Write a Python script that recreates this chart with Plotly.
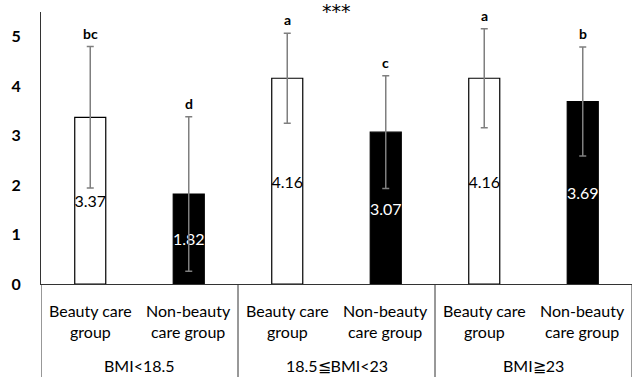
import plotly.graph_objects as go

groups = ["BMI<18.5", "18.5≦BMI<23", "BMI≧23"]
subgroups = ["Beauty care<br>group", "Non-beauty<br>care group"]
means = [3.37, 1.82, 4.16, 3.07, 4.16, 3.69]
sds = [1.43, 1.56, 0.91, 1.14, 1.00, 1.10]
letters = ["bc", "d", "a", "c", "a", "b"]
fills = ["white", "black", "white", "black", "white", "black"]
text_colors = ["black", "white", "black", "white", "black", "white"]
y_ticks = [0, 1, 2, 3, 4, 5]
significance = "***"

FONT = "Lato, Open Sans, sans-serif"
n_sub = len(subgroups)
positions = list(range(len(means)))

fig = go.Figure()
fig.add_trace(go.Bar(
    x=positions,
    y=means,
    marker=dict(color=fills, line=dict(color="black", width=1.2)),
    error_y=dict(type="data", array=sds, visible=True, color="#7f7f7f",
                 thickness=1.5, width=3.5),
    text=[f"{m:.2f}" for m in means],
    textposition="inside",
    insidetextanchor="middle",
    textangle=0,
    constraintext="none",
    textfont=dict(family=FONT, size=16, color=text_colors),
    hoverinfo="skip",
))

for i, (m, s, l) in enumerate(zip(means, sds, letters)):
    fig.add_annotation(x=i, y=m + s, text=l, showarrow=False, yanchor="bottom",
                       yshift=3, font=dict(family=FONT, size=14, color="black", weight="bold"))

# sub-group labels
for i in positions:
    fig.add_annotation(x=i, y=0, yref="paper", text=subgroups[i % n_sub], showarrow=False,
                       yanchor="top", yshift=-15, align="center",
                       font=dict(family=FONT, size=16, color="black"))

# group labels and dividers
for g, name in enumerate(groups):
    center = g * n_sub + (n_sub - 1) / 2
    fig.add_annotation(x=center, y=0, yref="paper", text=name, showarrow=False,
                       yanchor="middle", yshift=-81,
                       font=dict(family=FONT, size=16, color="black"))
for g in range(len(groups) + 1):
    xb = g * n_sub - 0.5
    fig.add_shape(type="line", xref="x", yref="paper", x0=xb, x1=xb, y0=0, y1=-93 / 272,
                  line=dict(color="#333333", width=1))

fig.add_annotation(x=(len(means) - 1) / 2, y=1, yref="paper", text=significance, showarrow=False,
                   yanchor="middle", yshift=1,
                   font=dict(family="DejaVu Sans", size=19, color="black"))

fig.update_layout(
    width=636, height=380,
    margin=dict(l=41, r=4, t=12, b=96),
    paper_bgcolor="white", plot_bgcolor="white",
    showlegend=False,
    bargap=0.685,
    font=dict(family=FONT, size=16, color="black"),
)
fig.update_xaxes(
    range=[-0.5, len(means) - 0.5],
    showline=True, linecolor="#333333", linewidth=1,
    showticklabels=False, showgrid=False, zeroline=False, ticks="",
)
fig.update_yaxes(
    range=[0, 5.5], tickvals=y_ticks,
    showline=True, linecolor="#333333", linewidth=1,
    showgrid=False, zeroline=False, ticks="",
    ticklabelstandoff=16,
    tickfont=dict(family=FONT, size=16, color="black", weight="bold"),
)

fig.write_html("out.html", config={"displayModeBar": False},
               post_script="document.body.style.margin='0';")
